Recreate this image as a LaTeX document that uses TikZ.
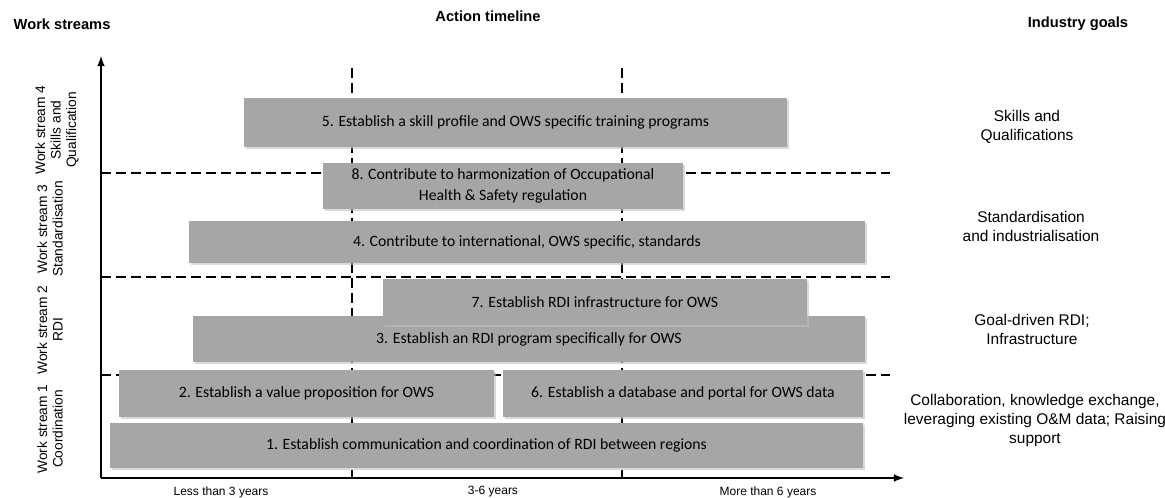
\documentclass[tikz,border=0pt]{standalone}
\usepackage{fontspec}
\setmainfont{Carlito}
\newfontfamily\arialfont{Liberation Sans}
\usetikzlibrary{shadows}

\tikzset{
  task/.style={fill=black!35, inner sep=0pt, align=center,
    font=\fontsize{11.8pt}{15.5pt}\selectfont,
    drop shadow={shadow xshift=1.2pt, shadow yshift=-1.2pt, fill=black!25, opacity=0.6}},
  grid/.style={dashed, dash pattern=on 7.5pt off 3.75pt, line width=0.9pt},
  axis/.style={line width=1.6pt, -latex},
  stream/.style={rotate=90, align=center, font=\arialfont\fontsize{10.3pt}{11.6pt}\selectfont},
  goal/.style={align=center, font=\arialfont\fontsize{11.6pt}{14.25pt}\selectfont},
  head/.style={font=\arialfont\bfseries\fontsize{11pt}{12pt}\selectfont},
  period/.style={font=\arialfont\fontsize{9pt}{10pt}\selectfont}
}

\begin{document}
\begin{tikzpicture}[x=0.75pt,y=-0.75pt]
\useasboundingbox (0,0) rectangle (1165,498);

% axes
\coordinate (o) at (101,478);
\coordinate (ytop) at (101,56);
\coordinate (xend) at (904,478);

% grid
\coordinate (v1t) at (352,68);
\coordinate (v1b) at (352,478);
\coordinate (v2t) at (622,68);
\coordinate (v2b) at (622,478);
\draw[grid] (v1t) -- (v1b);
\draw[grid] (v2t) -- (v2b);
\coordinate (h1a) at (101,173);
\coordinate (h1b) at (890,173);
\coordinate (h2a) at (101,277);
\coordinate (h2b) at (890,277);
\coordinate (h3a) at (101,375);
\coordinate (h3b) at (890,375);
\draw[grid] (h1a) -- (h1b);
\draw[grid] (h2a) -- (h2b);
\draw[grid] (h3a) -- (h3b);

% actions
\node[task, minimum width=407.25pt, minimum height=36.75pt] (a5) at (515.5,122.5)
  {5. Establish a skill profile and OWS specific training programs};
\node[task, minimum width=270pt, minimum height=34.5pt] (a8) at (503,186)
  {8. Contribute to harmonization of Occupational\\Health \& Safety regulation};
\node[task, minimum width=507pt, minimum height=31.5pt] (a4) at (527,242)
  {4. Contribute to international, OWS specific, standards};
\node[task, minimum width=504pt, minimum height=34.5pt] (a3) at (529,339)
  {3. Establish an RDI program specifically for OWS};
\node[task, minimum width=318pt, minimum height=34.5pt] (a7) at (595,302)
  {7. Establish RDI infrastructure for OWS};
\node[task, minimum width=281.25pt, minimum height=35.25pt] (a2) at (306.5,393.5)
  {2. Establish a value proposition for OWS};
\node[task, minimum width=270pt, minimum height=35.25pt] (a6) at (683,393.5)
  {6. Establish a database and portal for OWS data};
\node[task, minimum width=564.75pt, minimum height=33.75pt] (a1) at (486.5,445.5)
  {1. Establish communication and coordination of RDI between regions};

\draw[axis] (o) -- (ytop);
\draw[axis] (o) -- (xend);
\coordinate (t1) at (352,470);
\coordinate (t2) at (622,470);
\draw[line width=0.8pt] (t1) -- (v1b);
\draw[line width=0.8pt] (t2) -- (v2b);

% headings
\node[head, anchor=west] (hws) at (9,24) {Work streams};
\node[head] (hat) at (488,16) {Action timeline};
\node[head] (hig) at (1078,24) {Industry goals};

% work streams
\node[stream] (ws4) at (57,130) {Work stream 4\\Skills and\\Qualification};
\node[stream] (ws3) at (50,229) {Work stream 3\\Standardisation};
\node[stream] (ws2) at (50,330) {Work stream 2\\RDI};
\node[stream] (ws1) at (50,429) {Work stream 1\\Coordination};

% goals
\node[goal] (g4) at (1027,127) {Skills and\\Qualifications};
\node[goal] (g3) at (1031,226) {Standardisation\\and industrialisation};
\node[goal] (g2) at (1032,329) {Goal-driven RDI;\\Infrastructure};
\node[goal] (g1) at (1035,421) {Collaboration, knowledge exchange,\\leveraging existing O\&M data; Raising\\support};

% periods
\node[period] (p1) at (221,492) {Less than 3 years};
\node[period] (p2) at (493,492) {3-6 years};
\node[period] (p3) at (768,492) {More than 6 years};
\end{tikzpicture}
\end{document}
